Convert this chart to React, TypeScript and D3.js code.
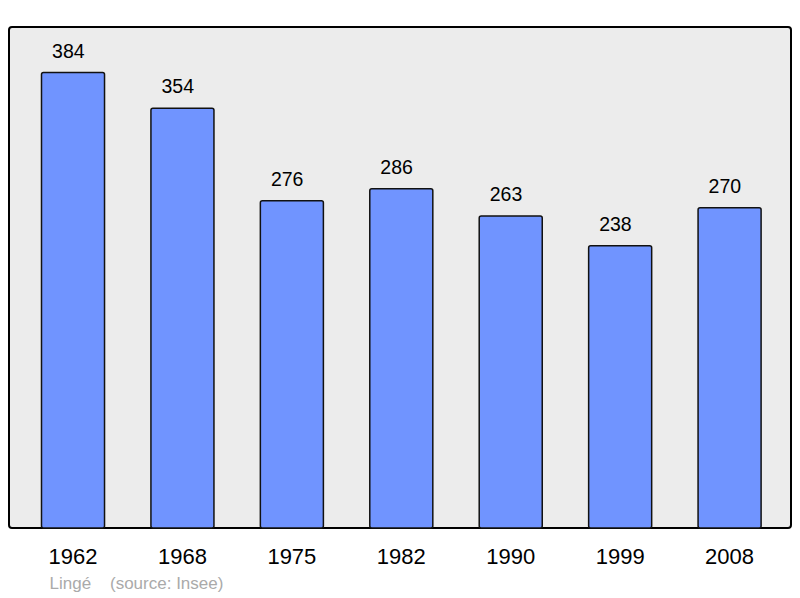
import React from "react";
import * as d3 from "d3";

const years = ["1962", "1968", "1975", "1982", "1990", "1999", "2008"];
const population = [384, 354, 276, 286, 263, 238, 270];
const townName = "Lingé";
const sourceNote = "(source: Insee)";

export default function App() {
  const width = 800,
    height = 598;
  const box = { left: 9, top: 27, right: 791, bottom: 528 };

  const x = d3.scaleBand<string>().domain(years).range([18.3, 784.3]);
  const barW = x.bandwidth() * 0.576;

  const y = d3
    .scaleLinear()
    .domain([0, (d3.max(population) as number) * 1.1])
    .range([box.bottom, box.top]);

  const font = "'Liberation Sans', Arial, sans-serif";

  return (
    <svg
      width={width}
      height={height}
      style={{ position: "absolute", left: 0, top: 0 }}
    >
      <rect width={width} height={height} fill="#ffffff" />
      <rect
        x={box.left}
        y={box.top}
        width={box.right - box.left}
        height={box.bottom - box.top}
        rx={3}
        fill="#ececec"
        stroke="#000"
        strokeWidth={2}
      />
      {years.map((yr, i) => {
        const cx = (x(yr) as number) + x.bandwidth() / 2;
        const v = population[i];
        return (
          <g key={yr}>
            <rect
              x={cx - barW / 2}
              y={y(v)}
              width={barW}
              height={box.bottom - y(v)}
              rx={2}
              fill="#7094ff"
              stroke="#111"
              strokeWidth={1.5}
            />
            <text
              x={cx - 4.7}
              y={y(v) - 15}
              textAnchor="middle"
              fontFamily={font}
              fontSize={19.5}
              fill="#000"
            >
              {v}
            </text>
            <text
              x={cx}
              y={564}
              textAnchor="middle"
              fontFamily={font}
              fontSize={22}
              fill="#000"
            >
              {yr}
            </text>
          </g>
        );
      })}
      <text x={49.5} y={589} fontFamily={font} fontSize={17} fill="#aaaaaa">
        {townName}
      </text>
      <text x={110} y={589} fontFamily={font} fontSize={17} fill="#aaaaaa">
        {sourceNote}
      </text>
    </svg>
  );
}
